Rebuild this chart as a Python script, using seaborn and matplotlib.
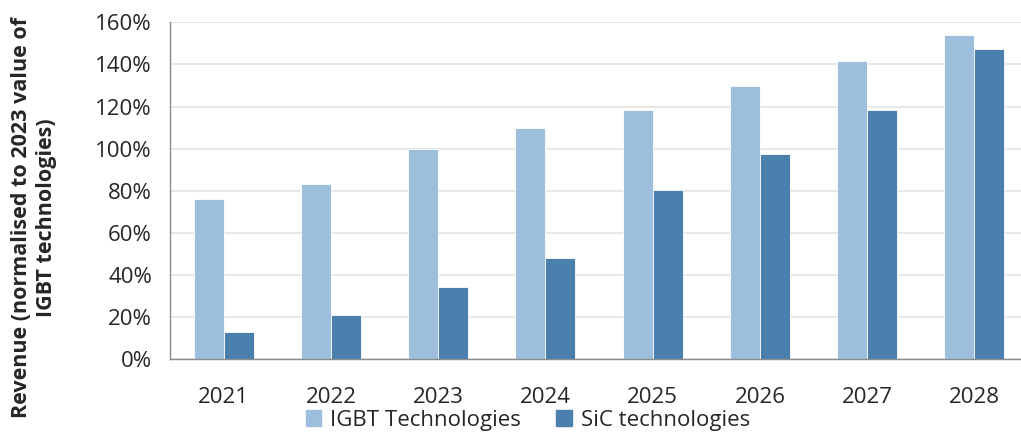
import pandas as pd
import matplotlib.pyplot as plt
import seaborn as sns
from matplotlib.ticker import PercentFormatter, FixedLocator

# data
years = ["2021", "2022", "2023", "2024", "2025", "2026", "2027", "2028"]
igbt = [0.76, 0.83, 1.00, 1.10, 1.185, 1.30, 1.415, 1.54]
sic = [0.13, 0.21, 0.34, 0.48, 0.805, 0.975, 1.185, 1.475]
series = ["IGBT Technologies", "SiC technologies"]
colors = ["#9DBEDD", "#4A7FAE"]

df = pd.DataFrame({
    "year": years * 2,
    "value": igbt + sic,
    "series": [series[0]] * len(years) + [series[1]] * len(years),
})

sns.set_style("white")
plt.rcParams["font.family"] = ["Open Sans", "DejaVu Sans"]

fig = plt.figure(figsize=(10.21, 4.37), dpi=100)
ax = fig.add_axes([170 / 1021, 78 / 437, 858 / 1021, 336.6 / 437])

sns.barplot(data=df, x="year", y="value", hue="series", palette=colors,
            width=0.56, ax=ax, legend=False, saturation=1,
            edgecolor="white", linewidth=0.6)

ax.set_ylim(0, 1.6)
ax.set_xlim(-0.5, 7.5)
ax.yaxis.set_major_formatter(PercentFormatter(1.0, decimals=0))
ax.set_yticks([i * 0.2 for i in range(9)])
ax.grid(axis="y", color="#E3E3E3", linewidth=1.2)
ax.set_axisbelow(True)

# category labels on minor ticks, boundary ticks on major
ax.xaxis.set_major_locator(FixedLocator([i - 0.5 for i in range(9)]))
ax.xaxis.set_minor_locator(FixedLocator(list(range(8))))
ax.set_xticklabels([], minor=False)
ax.set_xticklabels(years, minor=True)
ax.tick_params(axis="x", which="major", length=7, color="#8C8C8C", width=1)
ax.tick_params(axis="x", which="minor", length=0, pad=20, labelsize=16)
ax.tick_params(axis="y", length=7, color="#8C8C8C", width=1, labelsize=16, pad=6)

for s in ["top", "right"]:
    ax.spines[s].set_visible(False)
for s in ["left", "bottom"]:
    ax.spines[s].set_color("#8C8C8C")
    ax.spines[s].set_linewidth(1)

ax.set_xlabel("")
ax.set_ylabel("Revenue (normalised to 2023 value of\nIGBT technologies)",
              fontsize=15.5, fontweight="bold", linespacing=1.25)
ax.yaxis.set_label_coords(-0.132, 0.42)

handles = [plt.Rectangle((0, 0), 1, 1, color=c) for c in colors]
fig.legend(handles, series, loc="center", bbox_to_anchor=(0.517, 0.038),
           ncol=2, frameon=False, fontsize=16, handlelength=0.7,
           handleheight=0.7, handletextpad=0.4, columnspacing=1.6)

fig.savefig("out.png", dpi=100)
